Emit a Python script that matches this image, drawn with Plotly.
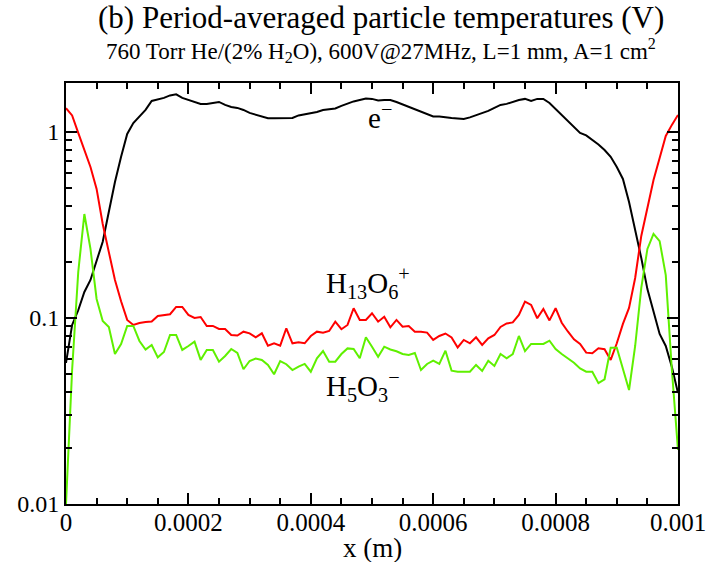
import numpy as np
import plotly.graph_objects as go

x = [i * 1e-5 for i in range(101)]

electron = [
    0.0573, 0.0917, 0.110, 0.138, 0.160, 0.200, 0.257, 0.372, 0.538, 0.735,
    0.976, 1.117, 1.205, 1.313, 1.468, 1.495, 1.524, 1.571, 1.592, 1.524,
    1.486, 1.441, 1.415, 1.415, 1.426, 1.449, 1.397, 1.362, 1.346, 1.313,
    1.265, 1.234, 1.205, 1.185, 1.185, 1.185, 1.185, 1.189, 1.227, 1.242,
    1.257, 1.281, 1.313, 1.330, 1.338, 1.380, 1.426, 1.459, 1.486, 1.514,
    1.505, 1.476, 1.486, 1.486, 1.449, 1.406, 1.362, 1.330, 1.281, 1.250,
    1.211, 1.211, 1.205, 1.189, 1.182, 1.175, 1.197, 1.227, 1.257, 1.297,
    1.346, 1.397, 1.415, 1.449, 1.486, 1.505, 1.468, 1.505, 1.505, 1.432,
    1.330, 1.234, 1.146, 1.057, 0.988, 0.958, 0.906, 0.857, 0.800, 0.735,
    0.648, 0.559, 0.420, 0.301, 0.210, 0.143, 0.108, 0.082, 0.0707, 0.0545,
    0.0395,
]

h13o6 = [
    1.341, 1.227, 0.988, 0.800, 0.648, 0.494, 0.320, 0.226, 0.160, 0.123,
    0.0976, 0.0917, 0.0940, 0.0952, 0.0958, 0.1025, 0.1038, 0.1047, 0.1146, 0.1146,
    0.1038, 0.1000, 0.1012, 0.0906, 0.0906, 0.0873, 0.0873, 0.0810, 0.0805, 0.0844,
    0.0827, 0.0787, 0.0827, 0.0710, 0.0730, 0.0710, 0.0880, 0.0731, 0.0740, 0.0731,
    0.0800, 0.0844, 0.0834, 0.0851, 0.0955, 0.0870, 0.0917, 0.1128, 0.0976, 0.0976,
    0.1060, 0.0955, 0.1016, 0.0891, 0.0976, 0.0898, 0.0906, 0.0844, 0.0844, 0.0834,
    0.0762, 0.0800, 0.0825, 0.0785, 0.0694, 0.0762, 0.0731, 0.0787, 0.0716, 0.0778,
    0.0810, 0.0895, 0.0934, 0.0946, 0.1038, 0.1224, 0.1175, 0.0996, 0.1118, 0.0970,
    0.1128, 0.0943, 0.0846, 0.0768, 0.0725, 0.0651, 0.0646, 0.0687, 0.0679, 0.0595,
    0.0731, 0.0929, 0.1132, 0.164, 0.276, 0.392, 0.552, 0.725, 0.951, 1.091,
    1.234,
]

h5o3 = [
    0.0100, 0.0525, 0.1767, 0.362, 0.235, 0.1265, 0.0964, 0.0895, 0.0640, 0.0725,
    0.0906, 0.0906, 0.0752, 0.0677, 0.0716, 0.0614, 0.0656, 0.0810, 0.0810, 0.0673,
    0.0707, 0.0746, 0.0595, 0.0673, 0.0673, 0.0582, 0.0625, 0.0681, 0.0648, 0.0530,
    0.0587, 0.0606, 0.0595, 0.0559, 0.0498, 0.0587, 0.0564, 0.0525, 0.0548, 0.0566,
    0.0514, 0.0607, 0.0664, 0.0582, 0.0582, 0.0640, 0.0686, 0.0681, 0.0607, 0.0787,
    0.0701, 0.0619, 0.0701, 0.0677, 0.0662, 0.0640, 0.0633, 0.0648, 0.0525, 0.0566,
    0.0589, 0.0566, 0.0667, 0.0521, 0.0514, 0.0514, 0.0514, 0.0559, 0.0519, 0.0589,
    0.0552, 0.0640, 0.0607, 0.0640, 0.0800, 0.0664, 0.0725, 0.0725, 0.0725, 0.0755,
    0.0681, 0.0640, 0.0606, 0.0575, 0.0535, 0.0514, 0.0514, 0.0446, 0.0468, 0.0692,
    0.0692, 0.0525, 0.0410, 0.0707, 0.145, 0.235, 0.283, 0.259, 0.170, 0.0525,
    0.0195,
]

x_tickvals = [0, 0.0002, 0.0004, 0.0006, 0.0008, 0.001]
x_ticktext = ["0", "0.0002", "0.0004", "0.0006", "0.0008", "0.001"]
y_tickvals = [0.01, 0.1, 1]
y_ticktext = ["0.01", "0.1", "1"]
y_minor = [m * d for d in (0.01, 0.1, 1) for m in range(2, 10)]
x_minor = [i * 5e-5 for i in range(21)]

FONT = "Liberation Serif, Times New Roman, serif"

fig = go.Figure()
fig.add_trace(go.Scatter(x=x, y=electron, mode="lines", line=dict(color="black", width=2), showlegend=False))
fig.add_trace(go.Scatter(x=x, y=h13o6, mode="lines", line=dict(color="#ff0000", width=2), showlegend=False))
fig.add_trace(go.Scatter(x=x, y=h5o3, mode="lines", line=dict(color="#5ff000", width=2), showlegend=False))

fig.update_layout(
    width=710, height=562,
    margin=dict(l=66, r=32, t=83, b=58, autoexpand=False),
    paper_bgcolor="white", plot_bgcolor="white",
    font=dict(family=FONT, color="black", size=25),
    showlegend=False,
)
fig.update_xaxes(
    range=[0, 0.001], showgrid=False, zeroline=False, automargin=False,
    showline=True, linecolor="black", linewidth=2, mirror="ticks",
    ticks="inside", ticklen=11, tickwidth=1.5, tickcolor="black",
    tickmode="array", tickvals=x_tickvals, ticktext=x_ticktext,
    tickfont=dict(family=FONT, size=25), ticklabelstandoff=-5,
    minor=dict(ticks="inside", ticklen=6, tickwidth=1.5, tickcolor="black",
               tickmode="array", tickvals=x_minor, showgrid=False),
)
fig.update_yaxes(
    type="log", range=[-2, 0.263], showgrid=False, zeroline=False, automargin=False,
    showline=True, linecolor="black", linewidth=2, mirror="ticks",
    ticks="inside", ticklen=11, tickwidth=1.5, tickcolor="black",
    tickmode="array", tickvals=y_tickvals, ticktext=y_ticktext,
    tickfont=dict(family=FONT, size=24),
    minor=dict(ticks="inside", ticklen=6, tickwidth=1.5, tickcolor="black",
               tickmode="array", tickvals=y_minor, showgrid=False),
)

ann = [
    dict(text="(b) Period-averaged particle temperatures (V)", x=0.515, y=1.155, size=31),
    dict(text="760 Torr He/(2% H<sub>2</sub>O), 600V@27MHz, L=1 mm, A=1 cm<sup>2</sup>", x=0.515, y=1.077, size=23),
    dict(text="x (m)", x=0.5, y=-0.105, size=27),
    dict(text="e<sup>−</sup>", x=0.513, y=0.922, size=29),
    dict(text="H<sub>13</sub>O<sub>6</sub><sup>+</sup>", x=0.493, y=0.525, size=29),
    dict(text="H<sub>5</sub>O<sub>3</sub><sup>−</sup>", x=0.485, y=0.280, size=29),
]
for a in ann:
    fig.add_annotation(text=a["text"], x=a["x"], y=a["y"], xref="paper", yref="paper",
                       showarrow=False, xanchor="center", yanchor="middle",
                       font=dict(family=FONT, size=a["size"], color="black"))

fig.write_html("out.html")
